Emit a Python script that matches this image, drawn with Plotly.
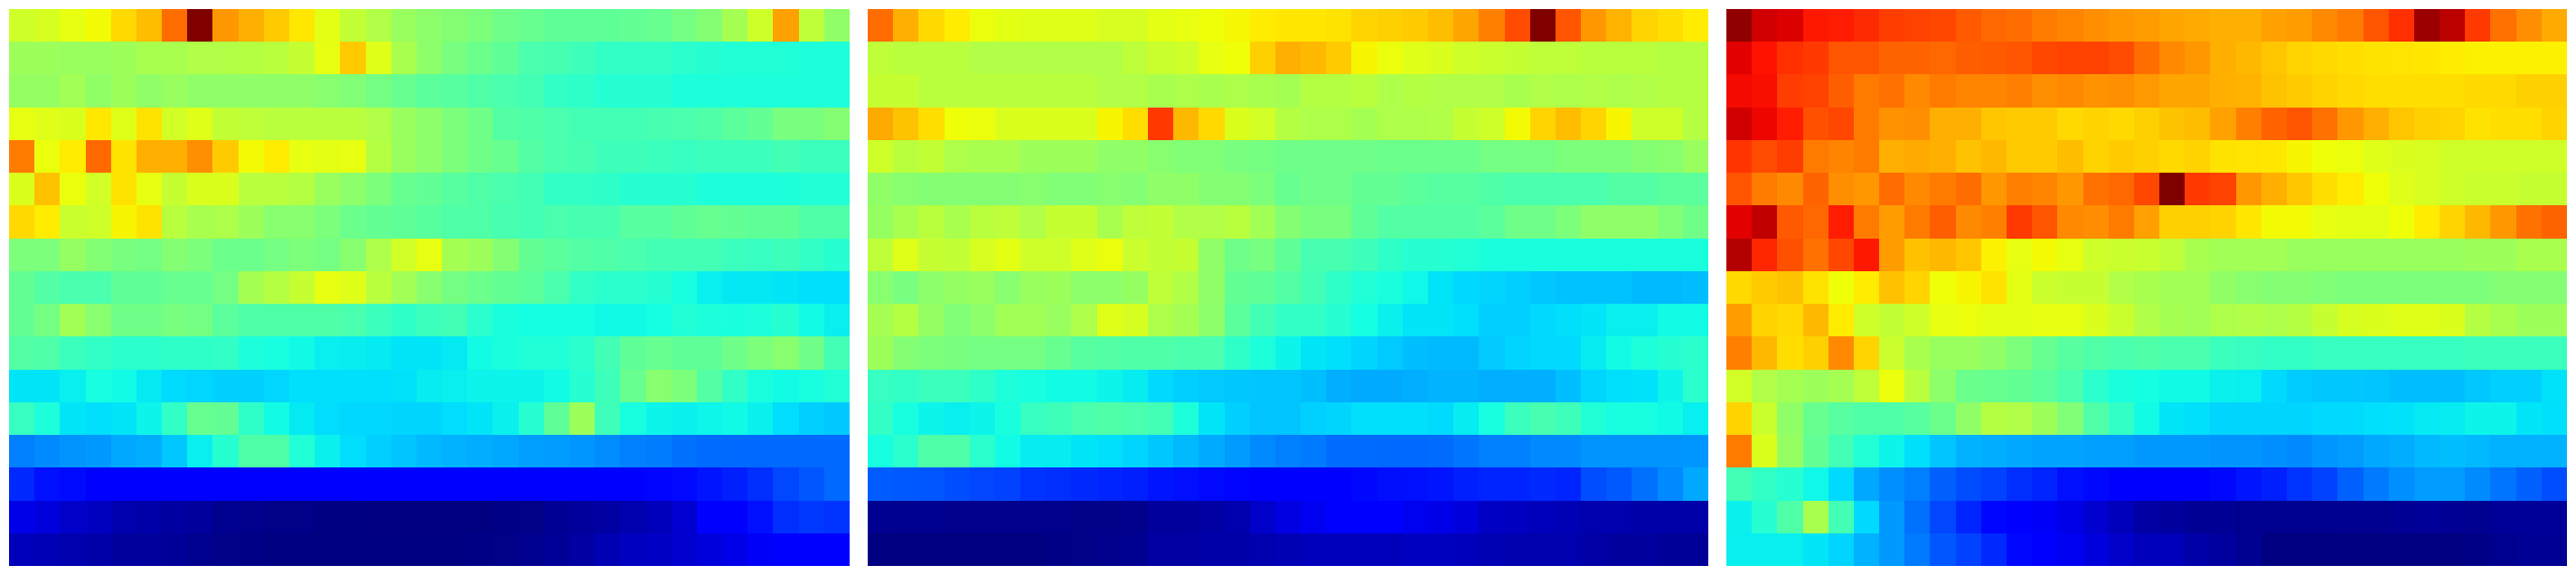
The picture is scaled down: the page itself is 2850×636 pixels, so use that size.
import numpy as np
import plotly.graph_objects as go

panel_a = [
[.60,.61,.63,.645,.68,.71,.795,1.0,.75,.725,.695,.665,.625,.585,.565,.535,.52,.51,.50,.485,.475,.465,.465,.465,.47,.475,.49,.51,.55,.60,.74,.58,.525],
[.54,.54,.535,.535,.54,.555,.555,.565,.565,.57,.575,.59,.63,.695,.62,.555,.52,.495,.48,.465,.44,.435,.425,.41,.41,.41,.40,.395,.39,.39,.39,.385,.385],
[.53,.53,.545,.525,.54,.525,.535,.525,.525,.525,.525,.525,.515,.505,.49,.475,.46,.455,.445,.44,.43,.41,.405,.395,.395,.395,.385,.385,.385,.385,.385,.385,.385],
[.63,.62,.615,.665,.62,.67,.605,.62,.585,.58,.575,.575,.575,.575,.565,.535,.52,.50,.485,.45,.445,.44,.43,.43,.43,.435,.44,.445,.46,.47,.495,.495,.51],
[.78,.635,.66,.80,.67,.725,.725,.76,.695,.645,.66,.63,.625,.63,.57,.535,.52,.50,.485,.475,.45,.44,.435,.425,.425,.42,.415,.42,.42,.42,.43,.42,.42],
[.615,.705,.635,.605,.67,.63,.59,.615,.615,.575,.575,.57,.535,.52,.50,.475,.467,.455,.445,.44,.43,.41,.41,.405,.395,.395,.395,.385,.385,.385,.385,.39,.39],
[.68,.66,.595,.60,.65,.67,.575,.555,.56,.54,.515,.515,.50,.48,.47,.465,.457,.445,.445,.435,.43,.44,.435,.435,.455,.455,.465,.475,.47,.465,.465,.445,.445],
[.50,.50,.53,.51,.495,.49,.51,.50,.48,.48,.49,.50,.49,.515,.56,.605,.63,.55,.54,.51,.47,.46,.45,.445,.44,.43,.43,.43,.42,.415,.425,.41,.395],
[.47,.45,.44,.44,.465,.465,.475,.475,.49,.55,.57,.59,.63,.62,.575,.545,.515,.49,.48,.47,.46,.44,.41,.40,.40,.395,.378,.36,.354,.354,.35,.344,.344],
[.47,.49,.545,.515,.485,.485,.495,.49,.46,.445,.445,.445,.445,.44,.42,.405,.42,.43,.40,.38,.375,.375,.375,.37,.37,.375,.39,.385,.38,.385,.395,.372,.36],
[.45,.445,.42,.41,.40,.40,.405,.405,.41,.385,.378,.37,.36,.358,.356,.35,.35,.355,.372,.38,.39,.39,.40,.43,.465,.475,.465,.465,.485,.50,.515,.485,.43],
[.35,.35,.36,.378,.372,.355,.34,.335,.33,.33,.335,.344,.344,.344,.344,.346,.357,.36,.364,.364,.365,.372,.395,.425,.475,.515,.50,.45,.41,.38,.372,.378,.39],
[.415,.385,.35,.344,.35,.365,.41,.475,.47,.405,.372,.355,.342,.337,.337,.334,.334,.342,.35,.362,.395,.465,.54,.425,.378,.365,.362,.366,.37,.362,.342,.329,.322],
[.25,.26,.27,.275,.29,.295,.32,.36,.395,.445,.445,.39,.362,.342,.329,.318,.307,.30,.295,.29,.28,.278,.272,.262,.25,.248,.235,.23,.228,.228,.228,.228,.228],
[.165,.14,.135,.125,.118,.118,.118,.118,.118,.118,.118,.118,.118,.118,.118,.118,.118,.118,.118,.118,.118,.118,.118,.118,.118,.128,.133,.145,.155,.17,.195,.21,.228],
[.09,.08,.065,.055,.04,.035,.028,.025,.012,.01,.008,.008,.003,.002,0,0,0,0,0,.005,.008,.018,.025,.03,.04,.05,.07,.118,.118,.14,.17,.18,.175],
[.05,.045,.04,.035,.027,.025,.022,.012,.008,.006,.003,.003,.003,.002,.002,.002,.002,.002,.006,.008,.012,.02,.03,.045,.055,.06,.068,.08,.09,.105,.115,.118,.118],
]

panel_b = [
[.795,.725,.68,.66,.635,.625,.62,.62,.62,.61,.61,.625,.63,.64,.648,.66,.665,.665,.67,.685,.69,.695,.71,.735,.775,.83,1.0,.82,.75,.72,.685,.675,.66],
[.58,.575,.575,.575,.565,.565,.565,.565,.565,.565,.58,.595,.60,.63,.64,.69,.725,.715,.695,.65,.635,.62,.615,.60,.595,.59,.58,.58,.575,.575,.575,.57,.57],
[.59,.59,.575,.575,.575,.575,.575,.575,.575,.565,.565,.555,.56,.555,.56,.555,.55,.57,.57,.575,.56,.57,.565,.565,.565,.555,.565,.56,.565,.56,.565,.57,.57],
[.73,.705,.675,.64,.635,.615,.615,.615,.615,.65,.675,.85,.715,.68,.615,.605,.57,.56,.56,.55,.56,.56,.565,.59,.60,.645,.685,.71,.685,.65,.60,.60,.57],
[.60,.575,.585,.56,.555,.555,.54,.54,.54,.525,.525,.515,.505,.505,.495,.49,.485,.485,.485,.485,.48,.48,.48,.48,.49,.49,.49,.50,.50,.50,.51,.515,.535],
[.525,.515,.51,.51,.51,.51,.515,.505,.505,.515,.51,.525,.525,.51,.51,.50,.475,.485,.485,.47,.47,.46,.455,.455,.445,.44,.44,.44,.44,.45,.45,.46,.46],
[.53,.555,.575,.555,.575,.58,.565,.59,.59,.555,.58,.585,.565,.565,.575,.545,.51,.495,.495,.465,.45,.45,.45,.45,.46,.485,.485,.50,.525,.525,.525,.505,.485],
[.58,.62,.59,.585,.61,.625,.60,.60,.62,.635,.595,.585,.59,.525,.485,.495,.465,.435,.435,.425,.405,.395,.395,.39,.38,.38,.38,.38,.38,.38,.38,.38,.38],
[.515,.495,.52,.53,.535,.515,.535,.54,.52,.52,.53,.58,.565,.525,.47,.465,.45,.43,.405,.39,.38,.368,.349,.338,.333,.328,.32,.315,.315,.315,.308,.308,.312],
[.55,.57,.53,.505,.52,.545,.545,.535,.56,.62,.61,.56,.55,.52,.46,.43,.41,.41,.395,.375,.362,.35,.35,.344,.329,.329,.339,.344,.35,.36,.36,.372,.372],
[.54,.51,.50,.495,.49,.49,.49,.475,.455,.45,.445,.445,.44,.44,.405,.385,.365,.35,.344,.334,.323,.313,.308,.308,.323,.334,.339,.339,.357,.372,.385,.395,.40],
[.415,.41,.42,.42,.405,.385,.378,.372,.372,.365,.357,.339,.329,.323,.321,.318,.318,.313,.297,.292,.292,.297,.302,.302,.297,.297,.297,.313,.334,.344,.346,.365,.40],
[.41,.378,.365,.36,.365,.38,.415,.425,.44,.445,.44,.43,.385,.35,.329,.318,.318,.329,.334,.344,.344,.344,.339,.357,.378,.42,.435,.425,.39,.378,.378,.37,.36],
[.378,.40,.445,.445,.40,.372,.357,.357,.35,.344,.334,.321,.307,.292,.277,.26,.25,.245,.23,.23,.228,.228,.23,.24,.25,.25,.26,.26,.27,.27,.27,.27,.272],
[.215,.212,.21,.202,.195,.19,.175,.17,.165,.16,.155,.145,.14,.133,.128,.12,.12,.12,.125,.132,.138,.14,.145,.155,.16,.16,.165,.16,.20,.212,.235,.26,.29],
[.015,.012,.012,.01,.01,.01,.01,.01,.008,.008,.01,.025,.025,.03,.04,.065,.085,.098,.115,.118,.118,.098,.09,.08,.06,.055,.05,.045,.04,.04,.035,.035,.035],
[0,0,0,0,0,0,0,.005,.008,.01,.015,.03,.03,.035,.035,.04,.045,.05,.05,.05,.05,.055,.055,.05,.045,.04,.04,.04,.033,.027,.027,.022,.022],
]

panel_c = [
[.985,.93,.92,.885,.88,.865,.845,.84,.835,.815,.80,.795,.78,.77,.76,.75,.745,.735,.73,.725,.725,.74,.745,.765,.78,.82,.86,.975,.95,.85,.79,.76,.73],
[.915,.89,.86,.85,.82,.82,.805,.805,.80,.81,.815,.82,.835,.84,.84,.83,.795,.765,.75,.725,.715,.70,.685,.68,.675,.67,.668,.665,.66,.655,.655,.655,.655],
[.90,.895,.845,.84,.81,.78,.79,.765,.78,.77,.77,.775,.76,.765,.755,.76,.748,.735,.735,.725,.72,.705,.695,.687,.68,.675,.675,.675,.675,.68,.68,.69,.69],
[.93,.905,.88,.825,.835,.78,.755,.76,.725,.725,.70,.695,.695,.68,.687,.68,.69,.705,.71,.74,.775,.805,.82,.79,.75,.725,.70,.69,.685,.67,.675,.675,.687],
[.855,.83,.845,.78,.77,.78,.725,.73,.725,.705,.715,.695,.695,.71,.687,.695,.69,.68,.687,.67,.668,.665,.65,.64,.635,.62,.615,.61,.60,.60,.60,.60,.60],
[.82,.78,.765,.805,.76,.75,.795,.765,.78,.795,.75,.775,.77,.75,.79,.80,.835,1.0,.85,.84,.75,.725,.70,.675,.66,.64,.62,.61,.60,.595,.595,.59,.59],
[.915,.945,.815,.80,.88,.78,.745,.78,.81,.765,.775,.85,.82,.765,.76,.78,.742,.69,.69,.687,.665,.645,.645,.63,.625,.625,.64,.66,.685,.715,.75,.79,.805],
[.955,.87,.825,.79,.835,.885,.745,.705,.715,.70,.655,.63,.645,.63,.60,.595,.592,.58,.555,.545,.545,.545,.535,.535,.535,.535,.535,.535,.535,.54,.54,.555,.555],
[.68,.695,.705,.67,.64,.66,.705,.685,.64,.65,.67,.625,.595,.59,.59,.565,.555,.545,.545,.525,.515,.51,.51,.505,.50,.50,.50,.50,.50,.50,.51,.51,.51],
[.745,.687,.68,.715,.66,.60,.585,.60,.63,.635,.625,.625,.63,.63,.615,.595,.565,.55,.545,.56,.565,.56,.57,.59,.61,.615,.62,.62,.615,.57,.555,.54,.54],
[.775,.715,.675,.69,.765,.685,.595,.555,.535,.535,.525,.50,.475,.455,.445,.44,.445,.44,.44,.42,.415,.41,.41,.415,.415,.415,.415,.415,.415,.42,.42,.42,.42],
[.605,.565,.55,.54,.55,.58,.635,.575,.52,.48,.475,.47,.46,.44,.40,.38,.375,.37,.37,.362,.36,.339,.325,.321,.321,.318,.313,.313,.313,.321,.329,.329,.346],
[.687,.595,.525,.475,.455,.445,.445,.455,.48,.525,.57,.565,.54,.505,.445,.41,.372,.35,.344,.334,.334,.334,.334,.339,.339,.344,.346,.355,.357,.365,.365,.35,.344],
[.78,.615,.53,.47,.43,.39,.365,.344,.318,.30,.295,.29,.285,.285,.28,.28,.275,.275,.275,.27,.27,.265,.26,.272,.278,.29,.295,.307,.313,.307,.30,.30,.30],
[.43,.41,.395,.368,.339,.29,.265,.25,.22,.20,.19,.17,.16,.14,.132,.125,.12,.12,.125,.132,.145,.155,.175,.19,.22,.245,.265,.278,.278,.26,.24,.22,.20],
[.362,.395,.445,.555,.43,.339,.275,.235,.195,.16,.13,.12,.105,.09,.07,.05,.032,.027,.018,.018,.012,.012,.012,.012,.015,.015,.018,.022,.018,.015,.022,.022,.022],
[.36,.36,.36,.35,.334,.30,.275,.245,.21,.19,.165,.132,.12,.10,.08,.065,.052,.05,.035,.027,.015,0,0,0,0,0,0,0,0,.005,.012,.018,.018],
]

panels = [panel_a, panel_b, panel_c]
left_px = [10, 960, 1910]
right_px = [940, 1890, 2840]
top_px, bottom_px = 10, 626
W, H = 2850, 636

# matplotlib-style jet
stops = [0, .11, .125, .34, .35, .375, .64, .65, .66, .89, .91, 1]
r = np.interp(stops, [0, .35, .66, .89, 1], [0, 0, 1, 1, .5])
g = np.interp(stops, [0, .125, .375, .64, .91, 1], [0, 0, 1, 1, 0, 0])
b = np.interp(stops, [0, .11, .34, .65, 1], [.5, 1, 1, 0, 0])
jet = [[s, f"rgb({round(x*255)},{round(y*255)},{round(z*255)})"] for s, x, y, z in zip(stops, r, g, b)]

fig = go.Figure()
layout = dict(
    width=W, height=H, autosize=False,
    margin=dict(l=0, r=0, t=0, b=0, pad=0),
    paper_bgcolor="white", plot_bgcolor="white",
)
for i, data in enumerate(panels):
    sfx = "" if i == 0 else str(i + 1)
    fig.add_trace(go.Heatmap(
        z=data, zmin=0, zmax=1, colorscale=jet, showscale=False,
        xaxis="x" + sfx, yaxis="y" + sfx, zsmooth=False, xgap=0, ygap=0,
    ))
    layout["xaxis" + sfx] = dict(domain=[left_px[i] / W, right_px[i] / W], visible=False,
                                 range=[-.5, 32.5], anchor="y" + sfx, fixedrange=True)
    layout["yaxis" + sfx] = dict(domain=[1 - bottom_px / H, 1 - top_px / H], visible=False,
                                 range=[16.5, -.5], anchor="x" + sfx, fixedrange=True)
fig.update_layout(**layout)
fig.write_html("out.html", config={"displayModeBar": False},
               post_script="document.body.style.margin='0';document.documentElement.style.overflow='hidden';")
